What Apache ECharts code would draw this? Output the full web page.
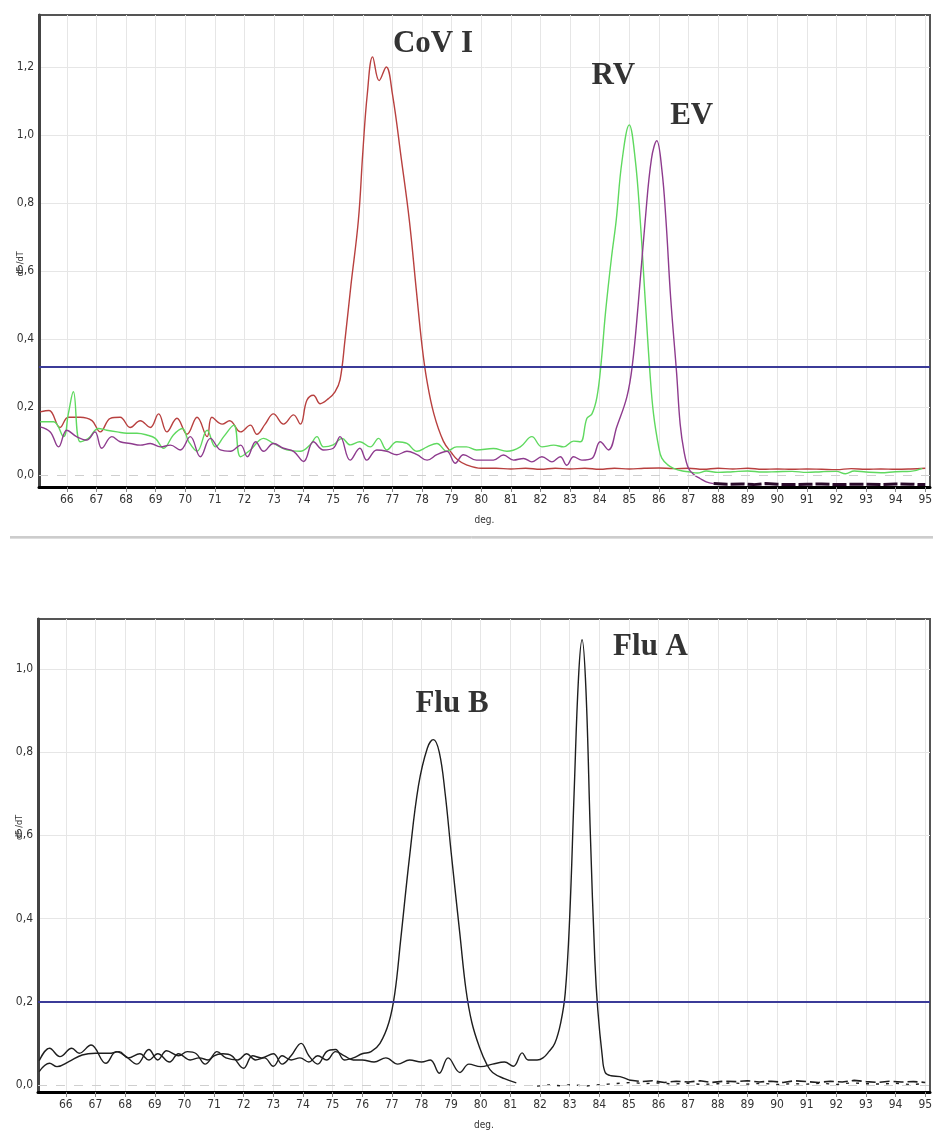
<!DOCTYPE html>
<html>
<head>
<meta charset="utf-8">
<script src="https://cdn.jsdelivr.net/npm/echarts@6/dist/echarts.min.js"></script>
<style>
html,body{margin:0;padding:0;background:#fff;}
#chart{width:933px;height:1135px;}
</style>
</head>
<body>
<div id="chart"></div>
<script>
// ---------- data (temperature, dF/dT) ----------
const xTicks = [66,67,68,69,70,71,72,73,74,75,76,77,78,79,80,81,82,83,84,85,86,87,88,89,90,91,92,93,94,95];
const yTicksTop = [0,0.2,0.4,0.6,0.8,1.0,1.2];
const yTicksBottom = [0,0.2,0.4,0.6,0.8,1.0];
const thresholdTop = 0.315;
const thresholdBottom = 0.2;

const cov1 = [[65.1,0.186],[65.4,0.19],[65.77,0.14],[66.05,0.17],[66.45,0.17],[66.85,0.16],[67.13,0.127],[67.47,0.167],[67.8,0.17],[68.14,0.14],[68.48,0.16],[68.82,0.14],[69.1,0.18],[69.38,0.127],[69.72,0.167],[70.06,0.12],[70.4,0.17],[70.74,0.113],[70.9,0.17],[71.25,0.15],[71.5,0.16],[71.87,0.127],[72.2,0.147],[72.42,0.12],[72.7,0.15],[72.98,0.18],[73.32,0.15],[73.66,0.177],[73.89,0.15],[74.11,0.22],[74.33,0.235],[74.56,0.21],[74.84,0.225],[75.06,0.245],[75.23,0.28],[75.4,0.4],[75.6,0.56],[75.85,0.75],[76.0,0.95],[76.15,1.12],[76.33,1.23],[76.55,1.16],[76.79,1.2],[77.0,1.12],[77.3,0.93],[77.57,0.75],[77.8,0.55],[78.0,0.38],[78.16,0.28],[78.4,0.18],[78.72,0.1],[79.0,0.065],[79.2,0.045],[79.5,0.03],[80.0,0.02],[80.5,0.02],[81,0.018],[81.5,0.02],[82,0.017],[82.5,0.02],[83,0.018],[83.5,0.02],[84,0.017],[84.5,0.02],[85,0.018],[85.5,0.02],[86,0.021],[86.5,0.019],[87,0.02],[87.5,0.017],[88,0.02],[88.5,0.018],[89,0.02],[89.5,0.017],[90,0.018],[90.5,0.017],[91,0.018],[91.5,0.017],[92,0.016],[92.5,0.019],[93,0.017],[93.5,0.018],[94,0.017],[94.5,0.018],[95,0.02]];

const rv = [[65.1,0.157],[65.55,0.157],[65.89,0.113],[66.05,0.18],[66.22,0.245],[66.45,0.098],[66.73,0.108],[67.07,0.137],[67.35,0.132],[67.7,0.127],[68.03,0.123],[68.37,0.123],[68.7,0.118],[68.99,0.108],[69.27,0.079],[69.6,0.118],[69.9,0.137],[70.12,0.098],[70.4,0.07],[70.74,0.132],[71.02,0.083],[71.3,0.113],[71.64,0.147],[71.87,0.054],[72.2,0.074],[72.65,0.108],[72.98,0.093],[73.43,0.074],[73.89,0.07],[74.22,0.089],[74.45,0.113],[74.67,0.083],[75.0,0.089],[75.3,0.108],[75.57,0.089],[75.9,0.098],[76.25,0.083],[76.53,0.108],[76.81,0.074],[77.15,0.098],[77.49,0.093],[77.83,0.07],[78.17,0.083],[78.5,0.093],[78.84,0.07],[79.17,0.083],[79.5,0.083],[79.84,0.074],[80.41,0.078],[80.87,0.07],[81.32,0.083],[81.71,0.113],[82.05,0.083],[82.45,0.088],[82.78,0.083],[83.12,0.1],[83.35,0.098],[83.57,0.167],[83.74,0.18],[83.91,0.23],[84.05,0.33],[84.2,0.48],[84.4,0.64],[84.56,0.75],[84.75,0.92],[85.0,1.03],[85.2,0.93],[85.37,0.75],[85.55,0.5],[85.7,0.3],[85.82,0.18],[86.0,0.08],[86.1,0.05],[86.3,0.03],[86.5,0.02],[86.8,0.012],[87.0,0.01],[87.3,0.006],[87.6,0.012],[88,0.008],[88.5,0.01],[89,0.012],[89.5,0.009],[90,0.01],[90.5,0.011],[91,0.008],[91.5,0.01],[92,0.011],[92.3,0.004],[92.6,0.012],[93,0.009],[93.5,0.007],[94,0.01],[94.5,0.011],[94.9,0.02]];

const ev = [[65.1,0.142],[65.44,0.127],[65.72,0.083],[66.0,0.132],[66.33,0.113],[66.67,0.103],[66.95,0.127],[67.18,0.079],[67.52,0.113],[67.8,0.098],[68.14,0.093],[68.48,0.088],[68.82,0.093],[69.16,0.083],[69.5,0.088],[69.83,0.074],[70.17,0.113],[70.51,0.054],[70.85,0.108],[71.19,0.074],[71.53,0.07],[71.87,0.088],[72.1,0.054],[72.38,0.098],[72.65,0.07],[72.98,0.093],[73.32,0.079],[73.66,0.07],[74.0,0.04],[74.33,0.098],[74.67,0.074],[75.0,0.079],[75.23,0.113],[75.57,0.044],[75.9,0.079],[76.13,0.044],[76.47,0.074],[76.81,0.07],[77.15,0.06],[77.49,0.07],[77.83,0.06],[78.17,0.044],[78.5,0.06],[78.84,0.07],[79.12,0.035],[79.4,0.06],[79.84,0.044],[80.41,0.044],[80.75,0.059],[81.09,0.044],[81.43,0.049],[81.71,0.039],[82.05,0.054],[82.39,0.039],[82.67,0.054],[82.89,0.029],[83.12,0.054],[83.4,0.044],[83.74,0.049],[84.02,0.098],[84.3,0.074],[84.58,0.142],[84.92,0.23],[85.1,0.32],[85.3,0.5],[85.54,0.75],[85.75,0.93],[85.93,0.983],[86.1,0.9],[86.24,0.75],[86.4,0.52],[86.6,0.3],[86.72,0.15],[86.85,0.07],[87.0,0.02],[87.2,0.0],[87.39,-0.01],[87.6,-0.02],[87.85,-0.025]];

const evTail = [[87.85,-0.025],[88.3,-0.027],[88.8,-0.026],[89.2,-0.028],[89.6,-0.025],[90.0,-0.027],[90.5,-0.028],[91.0,-0.027],[91.5,-0.026],[92.0,-0.028],[92.5,-0.027],[93.0,-0.027],[93.5,-0.028],[94.0,-0.026],[94.5,-0.027],[95.0,-0.028]];

const fluB = [[65.1,0.058],[65.45,0.088],[65.8,0.068],[66.2,0.088],[66.45,0.076],[66.85,0.096],[67.35,0.052],[67.7,0.08],[68.0,0.07],[68.4,0.05],[68.8,0.085],[69.1,0.06],[69.4,0.082],[69.8,0.07],[70.1,0.08],[70.4,0.075],[70.7,0.05],[71.0,0.07],[71.3,0.075],[71.6,0.07],[72.0,0.04],[72.3,0.07],[72.6,0.065],[73.0,0.075],[73.3,0.05],[73.6,0.07],[73.94,0.1],[74.2,0.07],[74.5,0.05],[74.8,0.08],[75.1,0.085],[75.4,0.06],[75.7,0.065],[76.0,0.075],[76.3,0.08],[76.6,0.1],[76.9,0.15],[77.1,0.22],[77.3,0.35],[77.6,0.55],[77.9,0.72],[78.2,0.81],[78.4,0.83],[78.6,0.8],[78.8,0.7],[79.0,0.56],[79.3,0.36],[79.5,0.23],[79.7,0.15],[79.96,0.09],[80.2,0.05],[80.4,0.03],[80.8,0.015],[81.2,0.005]];

const fluBTail = [[81.9,-0.003],[82.3,0.0],[82.7,-0.002],[83.1,0.001],[83.5,-0.003],[83.9,0.0],[84.3,0.002],[84.7,0.004],[85.1,0.006],[85.5,0.003],[86.0,0.005],[86.5,0.002],[87.0,0.004],[87.5,0.001],[88.0,0.003],[88.5,0.005],[89.0,0.002],[89.5,0.004],[90.0,0.001],[90.5,0.003],[91.0,0.002],[91.5,0.004],[92.0,0.001],[92.5,0.005],[93.0,0.003],[93.5,0.002],[94.0,0.004],[94.5,0.001],[95.0,0.003]];

const fluA = [[65.1,0.032],[65.45,0.052],[65.7,0.044],[66.1,0.056],[66.55,0.072],[67.0,0.076],[67.45,0.076],[67.8,0.08],[68.1,0.065],[68.5,0.075],[68.8,0.06],[69.1,0.075],[69.5,0.055],[69.8,0.075],[70.2,0.06],[70.5,0.065],[70.8,0.06],[71.1,0.08],[71.4,0.065],[71.8,0.06],[72.1,0.075],[72.4,0.06],[72.7,0.065],[73.0,0.045],[73.3,0.07],[73.6,0.06],[73.9,0.065],[74.2,0.055],[74.5,0.07],[74.8,0.06],[75.1,0.08],[75.4,0.07],[75.7,0.06],[76.0,0.06],[76.4,0.055],[76.8,0.065],[77.2,0.05],[77.6,0.06],[78.0,0.055],[78.3,0.06],[78.6,0.028],[78.9,0.065],[79.3,0.03],[79.6,0.05],[80.0,0.044],[80.4,0.05],[80.8,0.055],[81.1,0.045],[81.4,0.077],[81.6,0.06],[81.9,0.06],[82.1,0.065],[82.3,0.08],[82.5,0.1],[82.7,0.15],[82.85,0.22],[83.0,0.4],[83.15,0.7],[83.3,0.98],[83.42,1.07],[83.55,0.95],[83.7,0.6],[83.85,0.3],[83.95,0.18],[84.1,0.07],[84.2,0.03],[84.4,0.022],[84.7,0.02],[85.0,0.012]];

const fluATail = [[85.0,0.012],[85.4,0.008],[85.8,0.01],[86.2,0.006],[86.6,0.009],[87.0,0.007],[87.4,0.01],[87.8,0.006],[88.2,0.009],[88.6,0.008],[89.0,0.01],[89.4,0.007],[89.8,0.009],[90.2,0.006],[90.6,0.01],[91.0,0.008],[91.4,0.006],[91.8,0.009],[92.2,0.007],[92.6,0.011],[93.0,0.008],[93.4,0.006],[93.8,0.009],[94.2,0.007],[94.6,0.008],[95.0,0.006]];

const labelsTop = [[78.37,1.268,'CoV I'],[84.46,1.175,'RV'],[87.11,1.056,'EV']];
const labelsBottom = [[79.03,0.916,'Flu B'],[85.73,1.053,'Flu A']];

// ---------- chart ----------
const tickFont = '"Liberation Sans Narrow","DejaVu Sans Condensed","Liberation Sans",sans-serif';
const commaFmt = v => v.toFixed(1).replace('.', ',');

function xAxisDef(gridIndex) {
  return {
    type: 'value', gridIndex: gridIndex, min: 65.06, max: 95.16,
    name: 'deg.', nameLocation: 'middle', nameGap: 28, nameMoveOverlap: false,
    nameTextStyle: {fontFamily: tickFont, fontSize: 10, color: '#333'},
    axisLine: {show: true, onZero: false, lineStyle: {color: '#000', width: 3}},
    axisTick: {show: true, customValues: xTicks, length: 5, lineStyle: {color: '#888', width: 1}},
    axisLabel: {show: true, customValues: xTicks, margin: 7, fontFamily: tickFont, fontSize: 12, color: '#333'},
    splitLine: {show: true, lineStyle: {color: '#e6e6e6', width: 1}}
  };
}
function yAxisDef(gridIndex, min, max, ticks, pad) {
  return {
    type: 'value', gridIndex: gridIndex, min: min, max: max,
    name: 'dF /dT', nameLocation: 'middle', nameGap: 14, nameMoveOverlap: false,
    nameTextStyle: {fontFamily: tickFont, fontSize: 9, color: '#333', padding: pad},
    axisLine: {show: true, onZero: false, lineStyle: {color: '#444', width: 3}},
    axisTick: {show: false, customValues: ticks.filter(t => t !== 0)},
    axisLabel: {show: true, customValues: ticks, margin: 5, fontFamily: tickFont, fontSize: 12, color: '#333', formatter: commaFmt},
    splitLine: {show: true, lineStyle: {color: '#e6e6e6', width: 1}}
  };
}
function lineSeries(name, data, xi, color, extra) {
  return Object.assign({
    name: name, type: 'line', xAxisIndex: xi, yAxisIndex: xi, data: data,
    showSymbol: false, symbol: 'none', smooth: 0.4,
    lineStyle: {color: color, width: 1.4}, z: 3, silent: true
  }, extra || {});
}
function refLines(xi, thr) {
  return {
    type: 'line', xAxisIndex: xi, yAxisIndex: xi, data: [], silent: true,
    markLine: {
      symbol: 'none', silent: true, animation: false, label: {show: false},
      data: [
        {yAxis: 0, lineStyle: {color: '#cfcfcf', width: 1.2, type: [9, 9]}},
        {yAxis: thr, lineStyle: {color: '#3b3b98', width: 2, type: 'solid'}}
      ]
    }
  };
}
function textSeries(data, xi) {
  return {
    type: 'scatter', xAxisIndex: xi, yAxisIndex: xi, data: data, symbolSize: 0, silent: true, z: 10,
    label: {show: true, position: 'inside', formatter: p => p.data[2],
      fontFamily: '"Liberation Serif","Times New Roman",serif', fontWeight: 'bold', fontSize: 31, color: '#000'}
  };
}

const chart = echarts.init(document.getElementById('chart'), null, {renderer: 'canvas'});
chart.setOption({
  animation: false,
  backgroundColor: '#fff',
  grid: [
    {left: 39, top: 15, width: 891, height: 472, show: true, borderColor: '#555', borderWidth: 2, backgroundColor: '#fff', containLabel: false, outerBoundsMode: 'none'},
    {left: 38, top: 619, width: 892, height: 473, show: true, borderColor: '#555', borderWidth: 2, backgroundColor: '#fff', containLabel: false, outerBoundsMode: 'none'}
  ],
  xAxis: [xAxisDef(0), xAxisDef(1)],
  yAxis: [yAxisDef(0, -0.035, 1.353, yTicksTop, [0, 26, 0, 0]), yAxisDef(1, -0.017, 1.12, yTicksBottom, [0, 0, 0, 56])],
  graphic: [
    {type: 'line', shape: {x1: 10, y1: 537, x2: 933, y2: 537}, style: {stroke: '#9a9a9a', lineWidth: 1}},
    {type: 'line', shape: {x1: 10, y1: 538.5, x2: 933, y2: 538.5}, style: {stroke: '#dedede', lineWidth: 1}}
  ],
  series: [
    refLines(0, thresholdTop),
    lineSeries('CoV I', cov1, 0, '#b8403f'),
    lineSeries('RV', rv, 0, '#5fd95f'),
    lineSeries('EV', ev, 0, '#8e3b8e'),
    lineSeries('EV tail', evTail, 0, '#2a0a2a', {smooth: false, lineStyle: {color: '#2a0a2a', width: 3, type: [14, 3]}}),
    textSeries(labelsTop, 0),
    refLines(1, thresholdBottom),
    lineSeries('Flu B', fluB, 1, '#1e1e1e'),
    lineSeries('Flu B tail', fluBTail, 1, '#1e1e1e', {smooth: false, lineStyle: {color: '#1e1e1e', width: 1.4, type: [3, 7]}}),
    lineSeries('Flu A', fluA, 1, '#1e1e1e'),
    lineSeries('Flu A tail', fluATail, 1, '#1e1e1e', {smooth: false, lineStyle: {color: '#1e1e1e', width: 1.6, type: [10, 4]}}),
    textSeries(labelsBottom, 1)
  ]
});
</script>
</body>
</html>
